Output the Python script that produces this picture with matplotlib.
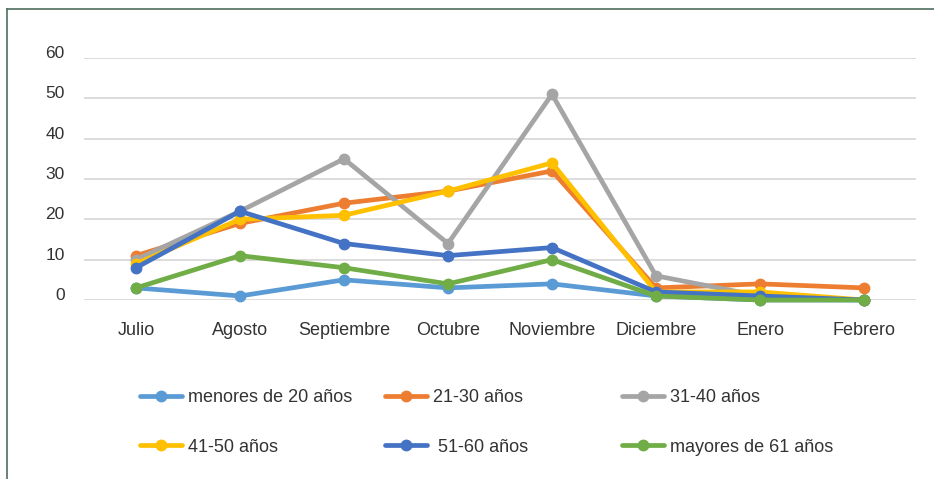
import matplotlib
matplotlib.use("Agg")
import matplotlib.pyplot as plt
from matplotlib.lines import Line2D

plt.rcParams['font.family'] = ['Liberation Sans', 'DejaVu Sans']

meses = ["Julio", "Agosto", "Septiembre", "Octubre", "Noviembre", "Diciembre", "Enero", "Febrero"]
menores_20 = [3, 1, 5, 3, 4, 1, 0, 0]
r21_30 = [11, 19, 24, 27, 32, 3, 4, 3]
r31_40 = [10, 22, 35, 14, 51, 6, 1, 0]
r41_50 = [9, 20, 21, 27, 34, 2, 2, 0]
r51_60 = [8, 22, 14, 11, 13, 2, 1, 0]
mayores_61 = [3, 11, 8, 4, 10, 1, 0, 0]

series_names = ["menores de 20 años", "21-30 años", "31-40 años",
                "41-50 años", " 51-60 años", "mayores de 61 años"]
series_values = [menores_20, r21_30, r31_40, r41_50, r51_60, mayores_61]
colors = ["#5B9BD5", "#ED7D31", "#A5A5A5", "#FFC000", "#4472C4", "#70AD47"]
yticks = [0, 10, 20, 30, 40, 50, 60]

W, H = 934, 479
fig = plt.figure(figsize=(W / 100, H / 100), dpi=100)
ax = fig.add_axes([84 / W, 1 - 300 / H, 832 / W, 242 / H])

x = list(range(len(meses)))
handles = []
for name, vals, c in zip(series_names, series_values, colors):
    h, = ax.plot(x, vals, color=c, lw=3.4, marker='o', markersize=7.5,
                 markeredgecolor=c, clip_on=False, label=name,
                 solid_joinstyle='round', solid_capstyle='round')
    handles.append(h)

ax.set_xlim(-0.5, len(meses) - 0.5)
ax.set_ylim(0, 60)
ax.set_yticks(yticks)
ax.set_yticklabels([str(v) for v in yticks])
ax.set_xticks(x)
ax.set_xticklabels(meses)
ax.grid(axis='y', color='#d9d9d9', lw=1.3)
ax.set_axisbelow(True)
for s in ax.spines.values():
    s.set_visible(False)
ax.tick_params(axis='both', length=0, colors='#333333')
ax.tick_params(axis='y', pad=14, labelsize=12.5)
ax.tick_params(axis='x', pad=16, labelsize=13)
for lab in ax.get_yticklabels():
    lab.set_verticalalignment('baseline')

# legends: three columns of two rows
col_x = [140, 385, 622]
for i, cx in enumerate(col_x):
    hs = [handles[i], handles[i + 3]]
    leg = fig.legend(hs, [h.get_label() for h in hs], loc='center left',
                     bbox_to_anchor=(cx / W, 1 - 422.5 / H), frameon=False,
                     fontsize=13, handlelength=2.3, handletextpad=0.35,
                     labelspacing=1.78, borderpad=0, borderaxespad=0)
    for t in leg.get_texts():
        t.set_color('#333333')

# frame lines (top and left)
fig.add_artist(Line2D([7 / W, 1], [1 - 9 / H, 1 - 9 / H], color='#4f7060', lw=1.2,
                      transform=fig.transFigure))
fig.add_artist(Line2D([7 / W, 7 / W], [0, 1 - 9 / H], color='#4f7060', lw=1.2,
                      transform=fig.transFigure))

fig.savefig("out.png", dpi=100)
